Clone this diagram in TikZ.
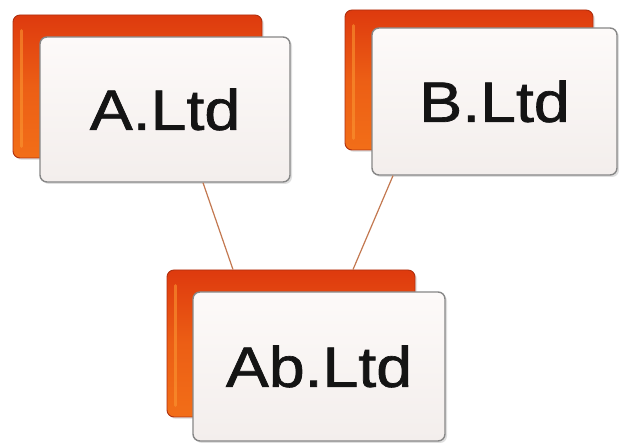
\documentclass[tikz,border=0pt]{standalone}
\usepackage{fontspec}
\usepackage{graphicx}
\setmainfont{Liberation Sans}
\newfontfamily\boxfont[FakeBold=1.2]{Liberation Sans}
\usetikzlibrary{calc,shadows}
\definecolor{orgTop}{RGB}{222,58,14}
\definecolor{orgBot}{RGB}{242,110,24}
\definecolor{orgEdge}{RGB}{175,48,15}
\definecolor{orgHi}{RGB}{250,150,50}
\definecolor{frontTop}{RGB}{253,250,249}
\definecolor{frontBot}{RGB}{243,238,236}
\definecolor{frontEdge}{RGB}{135,135,135}
\definecolor{linkCol}{RGB}{195,120,80}
\definecolor{txtCol}{RGB}{20,20,20}
\tikzset{
  backbox/.style={rectangle, rounded corners=7pt, draw=orgEdge, line width=0.9pt,
    top color=orgTop, bottom color=orgBot, middle color=orgBot!70!orgTop, inner sep=0pt,
    drop shadow={opacity=0.2, shadow xshift=2pt, shadow yshift=-2pt}},
  frontbox/.style={rectangle, rounded corners=7pt, draw=frontEdge, line width=1.4pt,
    top color=frontTop, bottom color=frontBot, inner sep=0pt, text=txtCol,
    font=\boxfont\fontsize{57}{60}\selectfont,
    drop shadow={opacity=0.25, shadow xshift=2pt, shadow yshift=-2pt}},
  hilite/.style={draw=orgHi, line width=3pt, opacity=0.6, line cap=round},
  link/.style={draw=linkCol, line width=1.2pt}
}
\begin{document}
\begin{tikzpicture}[x=1pt,y=-1pt]
\useasboundingbox[fill=white] (0,0) rectangle (619,443);
% A
\node[backbox, minimum width=249pt, minimum height=143pt] (Aback) at (137.5,86.5) {};
\draw[hilite] ($(Aback.north west)+(9,16)$) -- ($(Aback.south west)+(9,-12)$);
\node[frontbox, minimum width=250pt, minimum height=145pt] (A) at (165,109.5) {\scalebox{1.13}[1]{A.Ltd}};
% B
\node[backbox, minimum width=248pt, minimum height=140pt] (Bback) at (469,80) {};
\draw[hilite] ($(Bback.north west)+(9,16)$) -- ($(Bback.south west)+(9,-12)$);
\node[frontbox, minimum width=245pt, minimum height=147pt] (B) at (494.5,101.5) {\scalebox{1.13}[1]{B.Ltd}};
% Ab
\node[backbox, minimum width=248pt, minimum height=147pt] (Abback) at (291,343.5) {};
\draw[hilite] ($(Abback.north west)+(9,16)$) -- ($(Abback.south west)+(9,-12)$);
\node[frontbox, minimum width=252pt, minimum height=149pt] (Ab) at (319,366.5) {\scalebox{1.13}[1]{Ab.Ltd}};
% links
\draw[link] ($(A.south)+(38,0)$) -- ($(Abback.north)+(-58,0)$);
\draw[link] ($(B.south)+(-101.5,0)$) -- ($(Abback.north)+(62,0)$);
\end{tikzpicture}
\end{document}
